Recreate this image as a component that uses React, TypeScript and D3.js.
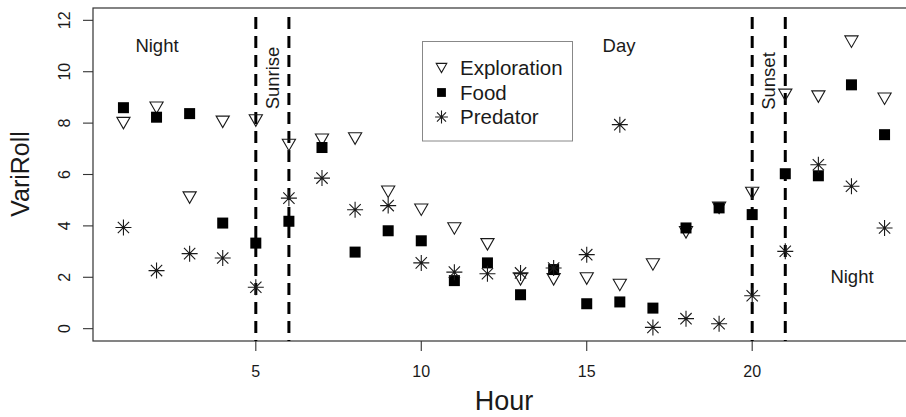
import React from 'react'
import * as d3 from 'd3'

const hours = d3.range(1, 25)
const exploration = [8.0, 8.6, 5.1, 8.05, 8.1, 7.15, 7.35, 7.4, 5.33, 4.63, 3.9, 3.28, 1.92, 1.92, 1.95, 1.7, 2.5, 3.75, 4.7, 5.28, 9.1, 9.03, 11.17, 8.95]
const food = [8.6, 8.23, 8.37, 4.11, 3.33, 4.18, 7.05, 2.98, 3.81, 3.42, 1.87, 2.56, 1.32, 2.3, 0.97, 1.04, 0.8, 3.92, 4.7, 4.44, 6.03, 5.95, 9.49, 7.55]
const predator = [3.94, 2.26, 2.92, 2.75, 1.61, 5.08, 5.86, 4.63, 4.79, 2.56, 2.2, 2.14, 2.17, 2.36, 2.88, 7.94, 0.05, 0.39, 0.19, 1.28, 3.01, 6.38, 5.54, 3.92]
const xTicks = [5, 10, 15, 20]
const yTicks = [0, 2, 4, 6, 8, 10, 12]
const markerHours = [5, 6, 20, 21]
const seriesNames = ['Exploration', 'Food', 'Predator']

const W = 906
const H = 417
const plot = { left: 93, right: 915, top: 8, bottom: 341 }
const ink = '#1a1a1a'
const font = '"Liberation Sans", Arial, Helvetica, sans-serif'

const x = d3.scaleLinear().domain([0.08, 24.92]).range([plot.left, plot.right])
const y = d3.scaleLinear().domain([-0.48, 12.48]).range([plot.bottom, plot.top])

// R style pch symbols, k scales them (legend uses smaller ones)
const Triangle = ({ cx, cy, k = 1 }: { cx: number; cy: number; k?: number }) => {
    const s = 6.6 * k
    const h = 11.5 * k
    return (
        <path
            d={`M${cx - s},${cy - h / 2}L${cx + s},${cy - h / 2}L${cx},${cy + h / 2}Z`}
            fill="none"
            stroke={ink}
            strokeWidth={1.1}
        />
    )
}

const Square = ({ cx, cy, k = 1 }: { cx: number; cy: number; k?: number }) => (
    <rect x={cx - 5.5 * k} y={cy - 5.5 * k} width={11 * k} height={11 * k} fill="#000" />
)

const Star = ({ cx, cy, k = 1 }: { cx: number; cy: number; k?: number }) => {
    const r = 8 * k
    const d = r * Math.SQRT1_2
    return (
        <path
            d={`M${cx - r},${cy}L${cx + r},${cy}M${cx},${cy - r}L${cx},${cy + r}M${cx - d},${cy - d}L${cx + d},${cy + d}M${cx - d},${cy + d}L${cx + d},${cy - d}`}
            stroke={ink}
            strokeWidth={1.1}
            fill="none"
        />
    )
}

const symbols = [Triangle, Square, Star]

export default function App() {
    return (
        <div style={{ position: 'fixed', left: 0, top: 0 }}>
            <svg width={W} height={H} style={{ display: 'block', background: '#fff' }} fontFamily={font}>
                {/* plot box */}
                <rect
                    x={plot.left}
                    y={plot.top}
                    width={plot.right - plot.left}
                    height={plot.bottom - plot.top}
                    fill="none"
                    stroke="#333"
                    strokeWidth={1.2}
                />

                {/* y axis */}
                {yTicks.map((t) => (
                    <g key={'y' + t}>
                        <line x1={plot.left - 10} x2={plot.left} y1={y(t)} y2={y(t)} stroke="#333" strokeWidth={1.1} />
                        <text
                            transform={`translate(${plot.left - 23},${y(t)}) rotate(-90)`}
                            textAnchor="middle"
                            fontSize={16}
                            fill={ink}
                        >
                            {t}
                        </text>
                    </g>
                ))}

                {/* x axis */}
                {xTicks.map((t) => (
                    <g key={'x' + t}>
                        <line x1={x(t)} x2={x(t)} y1={plot.bottom} y2={plot.bottom + 10} stroke="#333" strokeWidth={1.1} />
                        <text x={x(t)} y={plot.bottom + 36} textAnchor="middle" fontSize={16} fill={ink}>
                            {t}
                        </text>
                    </g>
                ))}

                {/* sunrise / sunset lines */}
                {markerHours.map((h) => (
                    <line
                        key={'v' + h}
                        x1={x(h)}
                        x2={x(h)}
                        y1={plot.top + 9}
                        y2={plot.bottom}
                        stroke="#000"
                        strokeWidth={3}
                        strokeDasharray="12 7"
                    />
                ))}

                {/* points */}
                {hours.map((h, i) => (
                    <Triangle key={'e' + h} cx={x(h)} cy={y(exploration[i])} />
                ))}
                {hours.map((h, i) => (
                    <Square key={'f' + h} cx={x(h)} cy={y(food[i])} />
                ))}
                {hours.map((h, i) => (
                    <Star key={'p' + h} cx={x(h)} cy={y(predator[i])} />
                ))}

                {/* annotations */}
                <text x={157} y={52} textAnchor="middle" fontSize={18.5} fill={ink}>Night</text>
                <text x={619} y={52} textAnchor="middle" fontSize={18.5} fill={ink}>Day</text>
                <text x={852} y={283} textAnchor="middle" fontSize={18.5} fill={ink}>Night</text>
                <text transform="translate(279,78) rotate(-90)" textAnchor="middle" fontSize={18.5} fill={ink}>Sunrise</text>
                <text transform="translate(775,81) rotate(-90)" textAnchor="middle" fontSize={18.5} fill={ink}>Sunset</text>

                {/* legend */}
                <rect x={422.5} y={41.5} width={150} height={99.5} fill="#fff" stroke="#888" strokeWidth={1} />
                {seriesNames.map((label, i) => {
                    const Sym = symbols[i]
                    const cy = 68 + i * 24.5
                    return (
                        <g key={label}>
                            <Sym cx={441.5} cy={cy} k={0.8} />
                            <text x={460} y={cy} dy="0.35em" fontSize={20.5} fill={ink}>
                                {label}
                            </text>
                        </g>
                    )
                })}

                {/* axis titles */}
                <text transform="translate(29,174) rotate(-90)" textAnchor="middle" fontSize={25} fill={ink}>VariRoll</text>
                <text x={504} y={410} textAnchor="middle" fontSize={27} fill={ink}>Hour</text>
            </svg>
        </div>
    )
}
